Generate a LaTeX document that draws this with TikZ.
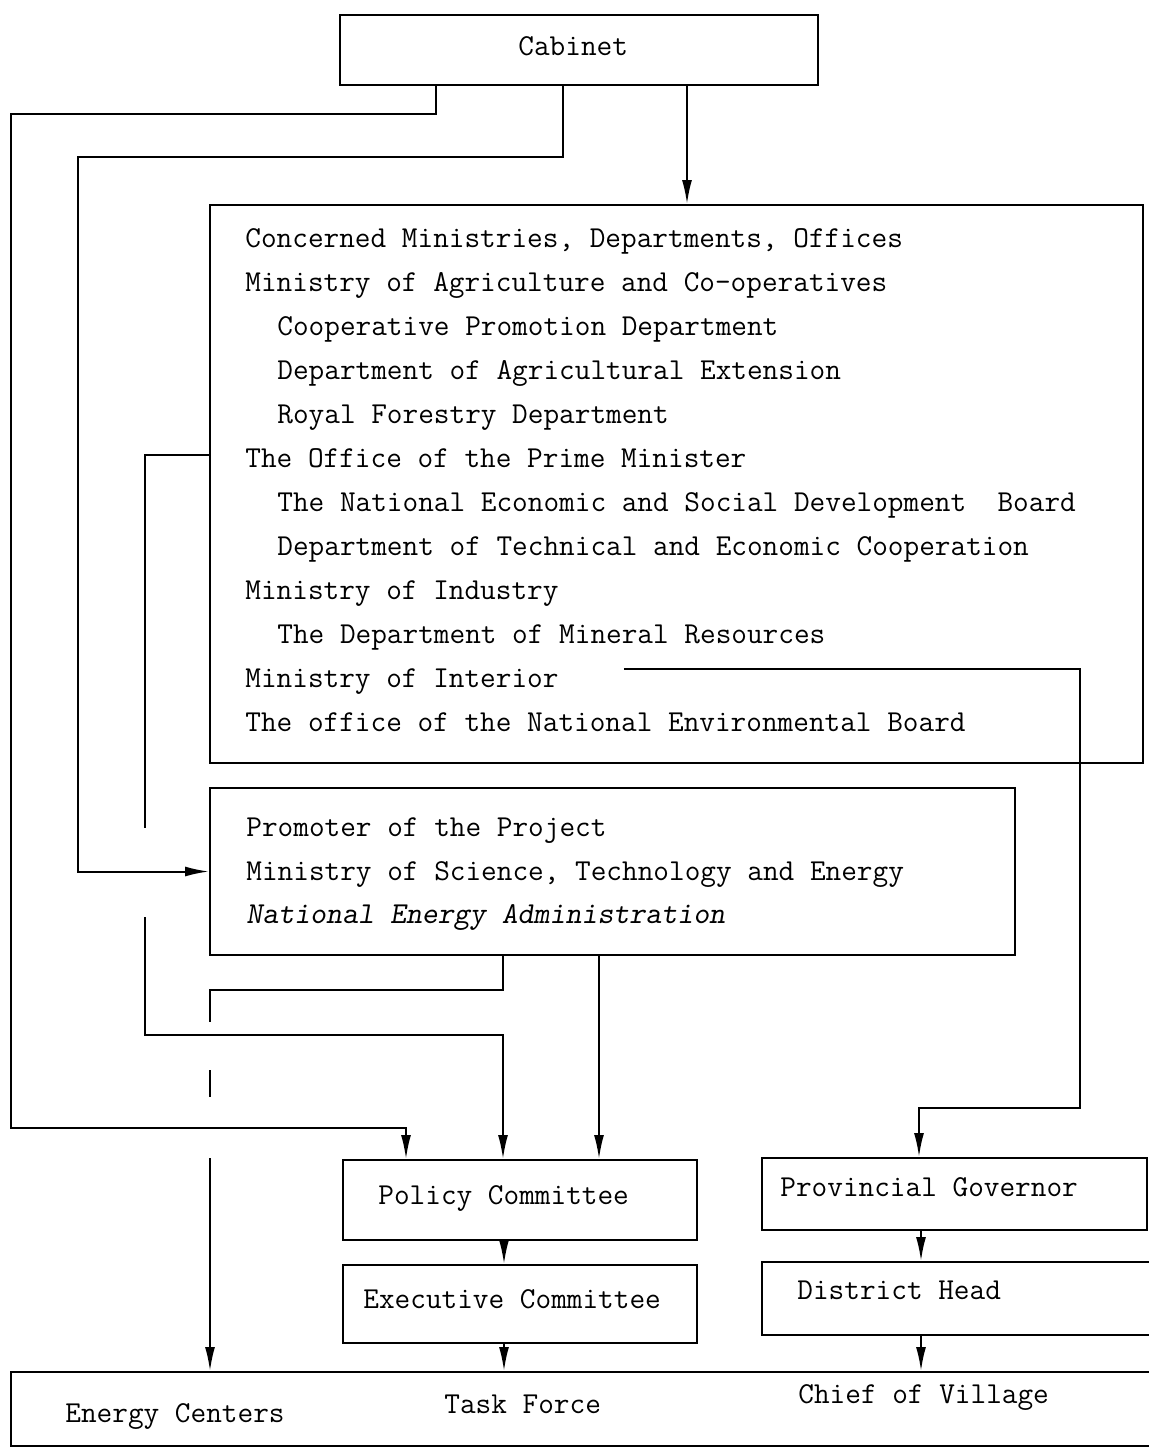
\documentclass[tikz,border=0pt]{standalone}
\usepackage{tikz}
\usetikzlibrary{calc}
\usetikzlibrary{arrows.meta}
\usetikzlibrary{positioning}
\newlength{\pix}
\setlength{\pix}{0.5pt}
\tikzset{>={Latex[length=12pt, width=5pt]}}
\tikzstyle{box} = [draw = black, line width = 1pt, inner sep = 0, font = \fontsize{15.2}{18}\selectfont\ttfamily]
\tikzstyle{entry} = [draw = none, inner sep = 0, anchor = base west, font = \fontsize{15.2}{18}\selectfont\ttfamily]
\tikzstyle{link} = [draw = black, line width = 1pt]

\begin{document}
\begin{tikzpicture}[x = 0.5pt, y = -0.5pt]
\useasboundingbox (0, 0) rectangle (1149, 1452);
% boxes
\node [box, minimum width = 478\pix, minimum height = 70\pix] (cabinet) at (579, 50) {};
\node [box, minimum width = 933\pix, minimum height = 558\pix] (concerned) at (676.5, 484) {};
\node [box, minimum width = 805\pix, minimum height = 167\pix] (promoter) at (612.5, 871.5) {};
\node [box, minimum width = 354\pix, minimum height = 80\pix] (policy) at (520, 1200) {};
\node [box, minimum width = 354\pix, minimum height = 78\pix] (executive) at (520, 1304) {};
\node [box, minimum width = 385\pix, minimum height = 72\pix] (provincial) at (954.5, 1194) {};
\node [box, minimum width = 403\pix, minimum height = 73\pix] (district) at (963.5, 1298.5) {};
\node [box, minimum width = 1164\pix, minimum height = 74\pix] (bottom) at (593, 1409) {};

% cabinet
\node [entry] (cabinetname) at (518, 55) {Cabinet};

% concerned ministries
\node [entry] (heading) at (245, 247) {Concerned Ministries, Departments, Offices};
\node [entry] (agri) at (245, 291) {Ministry of Agriculture and Co-operatives};
\node [entry] (coop) at (277, 335) {Cooperative Promotion Department};
\node [entry] (extension) at (277, 379) {Department of Agricultural Extension};
\node [entry] (forestry) at (277, 423) {Royal Forestry Department};
\node [entry] (pmoffice) at (245, 467) {The Office of the Prime Minister};
\node [entry] (nesdb) at (277, 511) {The National Economic and Social Development\ \ Board};
\node [entry] (dtec) at (277, 555) {Department of Technical and Economic Cooperation};
\node [entry] (industry) at (245, 599) {Ministry of Industry};
\node [entry] (mineral) at (277, 643) {The Department of Mineral Resources};
\node [entry] (interior) at (245, 687) {Ministry of Interior};
\node [entry] (environment) at (245, 731) {The office of the National Environmental Board};

% promoter
\node [entry] (project) at (246, 836) {Promoter of the Project};
\node [entry] (moste) at (246, 880) {Ministry of Science, Technology and Energy};
\node [entry, font = \fontsize{15.2}{18}\selectfont\ttfamily\slshape] (nea) at (246, 923) {National Energy Administration};

% committees and local levels
\node [entry] (policyname) at (378, 1204) {Policy Committee};
\node [entry] (executivename) at (363, 1308) {Executive Committee};
\node [entry] (governor) at (780, 1196) {Provincial Governor};
\node [entry] (head) at (797, 1299) {District Head};
\node [entry] (centers) at (65, 1422) {Energy Centers};
\node [entry] (force) at (444, 1413) {Task Force};
\node [entry] (village) at (798, 1403) {Chief of Village};

% from the cabinet
\draw [link, ->] ($(cabinet.south west)+(97, 0)$) |- (11, 114) -- (11, 1128) -| ($(policy.north west)+(64, 0)$);
\draw [link, ->] ($(cabinet.south west)+(224, 0)$) |- (78, 157) |- (promoter.west);
\draw [link, ->] ($(cabinet.south west)+(348, 0)$) -- ($(concerned.north west)+(478, 0)$);

% prime minister's office, jumping the promoter line
\coordinate (jumpTop) at (145, 828);
\coordinate (jumpBot) at (145, 917);
\draw [link] ($(concerned.west)+(0, -29)$) -| (jumpTop);
\draw [link, ->] (jumpBot) -- (145, 1035) -| ($(policy.north west)+(161, 0)$);

% promoter to energy centers, broken at the crossings
\coordinate (gapA) at (210, 1022);
\coordinate (gapB) at (210, 1070);
\coordinate (gapC) at (210, 1097);
\coordinate (gapD) at (210, 1158);
\draw [link] ($(promoter.south west)+(294, 0)$) |- (210, 990) -- (gapA);
\draw [link] (gapB) -- (gapC);
\draw [link, ->] (gapD) -- (bottom.north -| gapD);
\draw [link, ->] ($(promoter.south west)+(390, 0)$) -- ($(policy.north west)+(257, 0)$);

% interior to the provinces
\draw [link, ->] ($(interior.east)+(65, -12)$) -| (1080, 1108) -| ($(provincial.north west)+(158, 0)$);

% down the columns
\draw [link, ->] ($(policy.south west)+(162, 0)$) -- ($(executive.north west)+(162, 0)$);
\draw [link, ->] ($(executive.south west)+(162, 0)$) -- ($(bottom.north west)+(494, 0)$);
\draw [link, ->] ($(provincial.south west)+(160, 0)$) -- ($(district.north west)+(160, 0)$);
\draw [link, ->] ($(district.south west)+(160, 0)$) -- ($(bottom.north west)+(911, 0)$);
\end{tikzpicture}
\end{document}
